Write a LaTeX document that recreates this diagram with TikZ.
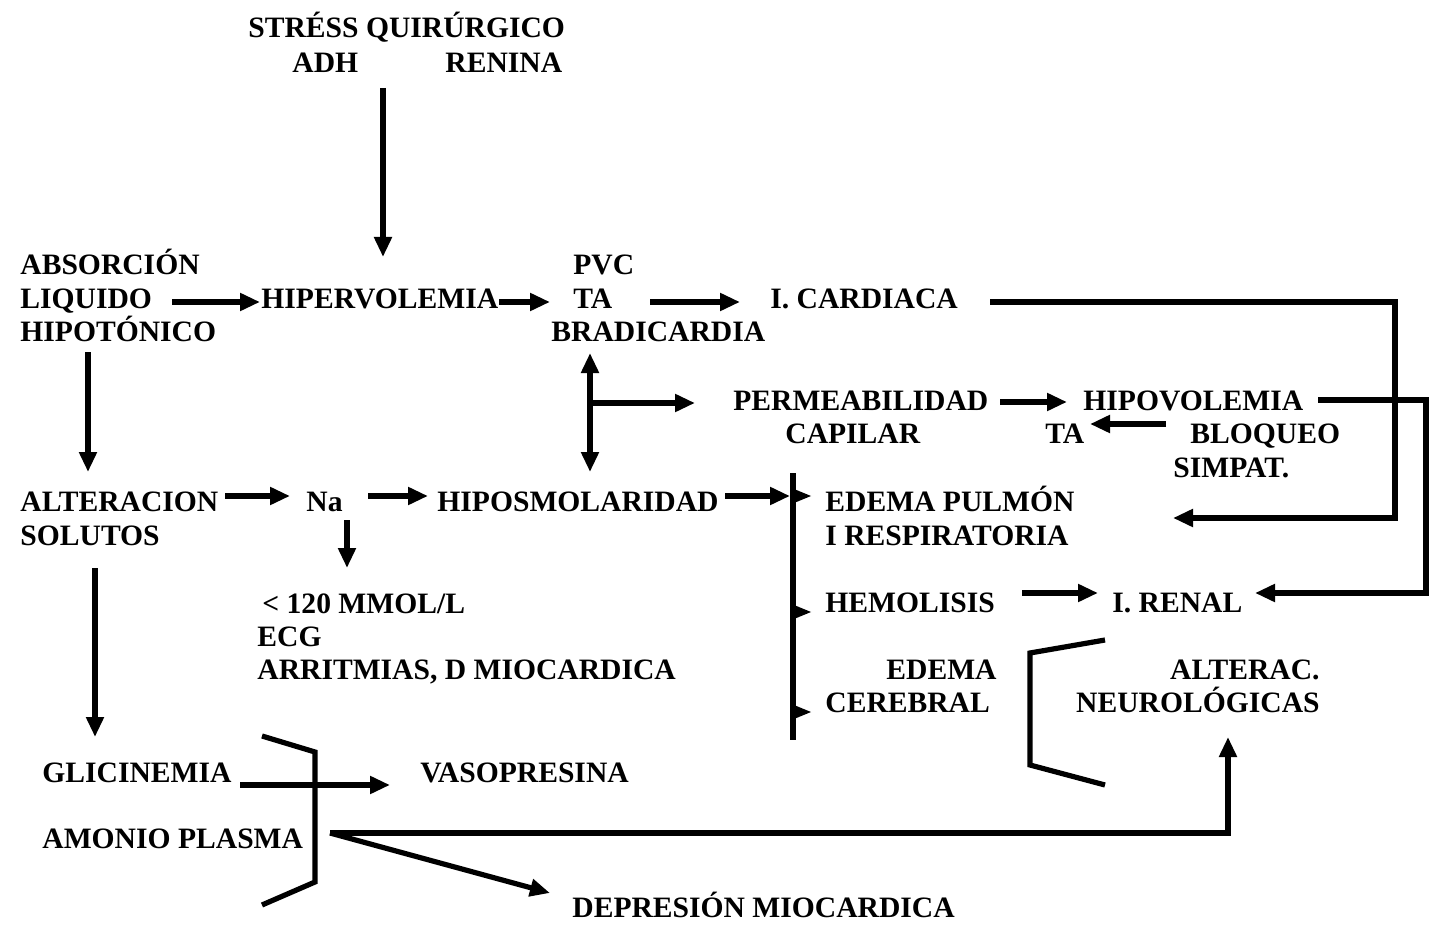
\documentclass[tikz,border=0pt]{standalone}
\usepackage{fontspec}
\setmainfont{Liberation Serif}
\usetikzlibrary{arrows.meta}
\begin{document}
\begin{tikzpicture}[x=0.5pt,y=-0.5pt,
  txt/.style={inner sep=0pt,anchor=base west,font=\fontsize{14.8}{17}\selectfont\bfseries},
  txtr/.style={txt,anchor=base east},
  ln/.style={line width=2.6pt},
  arr/.style={ln,-{Triangle[length=10pt,width=8.5pt]}},
  darr/.style={ln,{Triangle[length=10pt,width=8.5pt]}-{Triangle[length=10pt,width=8.5pt]}},
  tick/.style={fill=black}]
\useasboundingbox (0,0) rectangle (1437,931);
% texts
\node[txt] (stress) at (248,38) {STRÉSS QUIRÚRGICO};
\node[txt] (adh) at (292,73) {ADH};
\node[txt] (renina) at (445,73) {RENINA};
\node[txt] (abs1) at (20,275) {ABSORCIÓN};
\node[txt] (abs2) at (20,308) {LIQUIDO};
\node[txt] (abs3) at (20,342) {HIPOTÓNICO};
\node[txt] (hiper) at (261,308) {HIPERVOLEMIA};
\node[txt] (pvc) at (573,275) {PVC};
\node[txt] (taA) at (573,308) {TA};
\node[txt] (brad) at (551,342) {BRADICARDIA};
\node[txt] (icard) at (770,308) {I. CARDIACA};
\node[txt] (perm) at (733,410) {PERMEABILIDAD};
\node[txt] (capilar) at (785,443) {CAPILAR};
\node[txt] (hipov) at (1083,410) {HIPOVOLEMIA};
\node[txt] (taB) at (1045,443) {TA};
\node[txt] (bloq) at (1190,443) {BLOQUEO};
\node[txt] (simpat) at (1173,477) {SIMPAT.};
\node[txt] (alter) at (20,511) {ALTERACION};
\node[txt] (solutos) at (20,545) {SOLUTOS};
\node[txt] (na) at (306,511) {Na};
\node[txt] (hipos) at (437,511) {HIPOSMOLARIDAD};
\node[txt] (edemaA) at (825,511) {EDEMA PULMÓN};
\node[txt] (iresp) at (825,545) {I RESPIRATORIA};
\node[txt] (mmol) at (262,613) {< 120 MMOL/L};
\node[txt] (ecg) at (257,646) {ECG};
\node[txt] (arrit) at (257,679) {ARRITMIAS, D MIOCARDICA};
\node[txt] (hemo) at (825,612) {HEMOLISIS};
\node[txt] (irenal) at (1112,612) {I. RENAL};
\node[txtr] (edemaB) at (997,679) {EDEMA};
\node[txt] (cereb) at (825,712) {CEREBRAL};
\node[txtr] (alterac) at (1320,679) {ALTERAC.};
\node[txtr] (neuro) at (1320,712) {NEUROLÓGICAS};
\node[txt] (glic) at (42,782) {GLICINEMIA};
\node[txt] (vaso) at (420,782) {VASOPRESINA};
\node[txt] (amonio) at (42,848) {AMONIO PLASMA};
\node[txt] (depre) at (572,917) {DEPRESIÓN MIOCARDICA};
% coordinates
\coordinate (s1) at (383,88); \coordinate (s2) at (383,257);
\coordinate (l1) at (172,302); \coordinate (l2) at (260,302);
\coordinate (h1) at (499,302); \coordinate (h2) at (550,302);
\coordinate (t1) at (650,302); \coordinate (t2) at (740,302);
\coordinate (c1) at (990,302); \coordinate (c2) at (1395,302); \coordinate (c3) at (1395,518); \coordinate (c4) at (1173,518);
\coordinate (d1) at (590,353); \coordinate (d2) at (590,472); \coordinate (d3) at (590,403); \coordinate (d4) at (695,403);
\coordinate (p1) at (1000,402); \coordinate (p2) at (1067,402);
\coordinate (v1) at (1318,400); \coordinate (v2) at (1426,400); \coordinate (v3) at (1426,593); \coordinate (v4) at (1255,593);
\coordinate (b1) at (1166,424); \coordinate (b2) at (1090,424);
\coordinate (a1) at (88,352); \coordinate (a2) at (88,472);
\coordinate (n1) at (225,496); \coordinate (n2) at (290,496);
\coordinate (n3) at (368,496); \coordinate (n4) at (428,496);
\coordinate (n5) at (347,520); \coordinate (n6) at (347,568);
\coordinate (o1) at (725,496); \coordinate (o2) at (790,496);
\coordinate (bar1) at (793,473); \coordinate (bar2) at (793,740);
\coordinate (r1) at (1022,593); \coordinate (r2) at (1098,593);
\coordinate (g1) at (95,568); \coordinate (g2) at (95,737);
\coordinate (gv1) at (240,785); \coordinate (gv2) at (390,785);
\coordinate (m1) at (330,833); \coordinate (m2) at (1228,833); \coordinate (m3) at (1228,737);
\coordinate (m4) at (550,893);
% connectors
\draw[arr] (s1) -- (s2);
\draw[arr] (l1) -- (l2);
\draw[arr] (h1) -- (h2);
\draw[arr] (t1) -- (t2);
\draw[arr] (c1) -- (c2) -- (c3) -- (c4);
\draw[darr] (d1) -- (d2);
\draw[arr] (d3) -- (d4);
\draw[arr] (p1) -- (p2);
\draw[arr] (v1) -- (v2) -- (v3) -- (v4);
\draw[arr] (b1) -- (b2);
\draw[arr] (a1) -- (a2);
\draw[arr] (n1) -- (n2);
\draw[arr] (n3) -- (n4);
\draw[arr] (n5) -- (n6);
\draw[arr] (o1) -- (o2);
\draw[ln] (bar1) -- (bar2);
\foreach \ty in {496,612,712}{
  \fill[tick] (794,\ty-7) -- (811,\ty) -- (794,\ty+7) -- cycle;}
\draw[arr] (r1) -- (r2);
\draw[ln] (1105,640) -- (1030,653) -- (1030,765) -- (1105,785);
\draw[arr] (g1) -- (g2);
\draw[ln] (262,736) -- (315,752) -- (315,882) -- (262,905);
\draw[arr] (gv1) -- (gv2);
\draw[arr] (m1) -- (m2) -- (m3);
\draw[arr] (m1) -- (m4);
\end{tikzpicture}
\end{document}
